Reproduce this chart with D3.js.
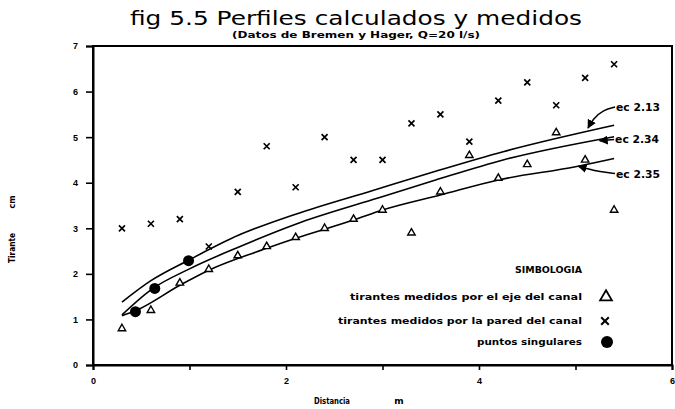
<!DOCTYPE html>
<html>
<head>
<meta charset="utf-8">
<script src="https://cdn.jsdelivr.net/npm/d3@7"></script>
<style>
  body { margin: 0; background: #fff; }
  svg { display: block; font-family: "DejaVu Sans", sans-serif; }
</style>
</head>
<body>
<div id="chart"></div>
<script>
// measured profiles (Distancia m, Tirante cm)
const ejeX = [0.3, 0.6, 0.9, 1.2, 1.5, 1.8, 2.1, 2.4, 2.7, 3.0, 3.3, 3.6, 3.9, 4.2, 4.5, 4.8, 5.1, 5.4]
const ejeY = [0.8, 1.2, 1.8, 2.1, 2.4, 2.6, 2.8, 3.0, 3.2, 3.4, 2.9, 3.8, 4.6, 4.1, 4.4, 5.1, 4.5, 3.4]
const paredX = [0.3, 0.6, 0.9, 1.2, 1.5, 1.8, 2.1, 2.4, 2.7, 3.0, 3.3, 3.6, 3.9, 4.2, 4.5, 4.8, 5.1, 5.4]
const paredY = [3.0, 3.1, 3.2, 2.6, 3.8, 4.8, 3.9, 5.0, 4.5, 4.5, 5.3, 5.5, 4.9, 5.8, 6.2, 5.7, 6.3, 6.6]
const singX = [0.44, 0.64, 0.99]
const singY = [1.17, 1.68, 2.29]

// computed profiles
const ec213X = [0.3, 0.6, 1.0, 1.5, 2.1, 2.9, 3.55, 4.25, 5.4]
const ec213Y = [1.38, 1.85, 2.31, 2.84, 3.31, 3.83, 4.25, 4.68, 5.26]
const ec234X = [0.3, 0.6, 1.0, 1.5, 2.1, 2.9, 3.55, 4.25, 5.4]
const ec234Y = [1.1, 1.65, 2.11, 2.58, 3.09, 3.63, 4.06, 4.5, 5.01]
const ec235X = [0.3, 0.45, 0.9, 1.2, 1.8, 2.1, 2.7, 3.0, 3.6, 4.2, 5.0, 5.4]
const ec235Y = [1.08, 1.2, 1.75, 2.08, 2.56, 2.78, 3.18, 3.4, 3.73, 4.06, 4.35, 4.53]

const xTicks = [0, 1, 2, 3, 4, 5, 6]
const xTickLabels = ["0", "", "2", "", "4", "", "6"]
const yTicks = [0, 1, 2, 3, 4, 5, 6, 7]

const legendLabels = ["tirantes medidos por el eje del canal", "tirantes medidos por la pared del canal", "puntos singulares"]

const annotLabels = ["ec 2.13", "ec 2.34", "ec 2.35"]
const annotArrows = [
    [[5.41, 5.66], [5.29, 5.6], [5.18, 5.4], [5.13, 5.2]],
    [[5.4, 4.95], [5.25, 4.92]],
    [[5.41, 4.2], [5.25, 4.24], [5.12, 4.31], [5.03, 4.36]]
]

const width = 675
const height = 409
const margin = { top: 46, bottom: 44, left: 93, right: 3 }

const svg = d3.select("#chart").append("svg")
    .attr("width", width)
    .attr("height", height)

svg.append("rect").attr("width", width).attr("height", height).attr("fill", "#fff")

let x = d3.scaleLinear().domain([0, 6]).range([margin.left, width - margin.right])
let y = d3.scaleLinear().domain([0, 7]).range([height - margin.bottom, margin.top])

svg.append("defs").append("marker")
    .attr("id", "arrow")
    .attr("viewBox", "0 0 10 10")
    .attr("refX", 9).attr("refY", 5)
    .attr("markerWidth", 6).attr("markerHeight", 6)
    .attr("orient", "auto")
    .append("path").attr("d", "M0,0 L10,5 L0,10 z").attr("fill", "#000")

// frame
svg.append("rect")
    .attr("x", x(0)).attr("y", y(7))
    .attr("width", x(6) - x(0)).attr("height", y(0) - y(7))
    .attr("fill", "none").attr("stroke", "#000").attr("stroke-width", 2)

// axes
let xAxis = d3.axisBottom(x).tickValues(xTicks).tickSize(5).tickPadding(8)
    .tickFormat((d, i) => xTickLabels[i])
let yAxis = d3.axisLeft(y).tickValues(yTicks).tickSize(7).tickPadding(8)
    .tickFormat(d3.format("d"))

let xAxisGroup = svg.append("g").attr("transform", `translate(0, ${y(0)})`).call(xAxis)
let yAxisGroup = svg.append("g").attr("transform", `translate(${x(0)}, 0)`).call(yAxis)
for (const g of [xAxisGroup, yAxisGroup]) {
    g.select(".domain").attr("stroke-width", 2)
    g.selectAll(".tick line").attr("stroke-width", 1.6)
    g.selectAll(".tick text").attr("font-size", 9).attr("font-weight", "bold").attr("fill", "#000")
}

// titles
svg.append("text").attr("x", 356).attr("y", 25).attr("text-anchor", "middle")
    .attr("font-size", 20).attr("textLength", 452).attr("lengthAdjust", "spacingAndGlyphs")
    .text("fig 5.5 Perfiles calculados y medidos")
svg.append("text").attr("x", 356).attr("y", 38).attr("text-anchor", "middle")
    .attr("font-size", 8).attr("font-weight", "bold").attr("textLength", 248).attr("lengthAdjust", "spacingAndGlyphs")
    .text("(Datos de Bremen y Hager, Q=20 l/s)")

svg.append("text").attr("x", 332).attr("y", 404).attr("text-anchor", "middle")
    .attr("font-size", 8).attr("font-weight", "bold").attr("textLength", 36).attr("lengthAdjust", "spacingAndGlyphs")
    .text("Distancia")
svg.append("text").attr("x", 399).attr("y", 404).attr("text-anchor", "middle")
    .attr("font-size", 9).attr("font-weight", "bold").text("m")

let yTitle = svg.append("g").attr("transform", "translate(15, 248) rotate(-90)")
yTitle.append("text").attr("x", 0).attr("y", 0).attr("text-anchor", "middle")
    .attr("font-size", 8).attr("font-weight", "bold").attr("textLength", 30).attr("lengthAdjust", "spacingAndGlyphs")
    .text("Tirante")
yTitle.append("text").attr("x", 46).attr("y", 0).attr("text-anchor", "middle")
    .attr("font-size", 8).attr("font-weight", "bold").text("cm")

// computed curves
let line = d3.line().x(d => x(d[0])).y(d => y(d[1])).curve(d3.curveMonotoneX)
const curves = [[ec213X, ec213Y], [ec234X, ec234Y], [ec235X, ec235Y]]
svg.append("g").selectAll("path").data(curves).enter().append("path")
    .attr("d", c => line(c[0].map((v, i) => [v, c[1][i]])))
    .attr("fill", "none").attr("stroke", "#000").attr("stroke-width", 1.6)

// markers
const tri = d3.symbol().type(d3.symbolTriangle).size(24)
const crossPath = s => `M${-s},${-s}L${s},${s}M${s},${-s}L${-s},${s}`

svg.append("g").selectAll("path").data(ejeX.map((v, i) => [v, ejeY[i]])).enter().append("path")
    .attr("transform", d => `translate(${x(d[0])},${y(d[1])})`)
    .attr("d", tri).attr("fill", "#fff").attr("stroke", "#000").attr("stroke-width", 1.4)

svg.append("g").selectAll("path").data(paredX.map((v, i) => [v, paredY[i]])).enter().append("path")
    .attr("transform", d => `translate(${x(d[0])},${y(d[1])})`)
    .attr("d", crossPath(3)).attr("stroke", "#000").attr("stroke-width", 1.7)

svg.append("g").selectAll("circle").data(singX.map((v, i) => [v, singY[i]])).enter().append("circle")
    .attr("cx", d => x(d[0])).attr("cy", d => y(d[1])).attr("r", 5.5).attr("fill", "#000")

// annotations
let arrowLine = d3.line().x(d => x(d[0])).y(d => y(d[1])).curve(d3.curveBasis)
annotArrows.forEach((a, i) => {
    svg.append("path").attr("d", arrowLine(a))
        .attr("fill", "none").attr("stroke", "#000").attr("stroke-width", 1.5)
        .attr("marker-end", "url(#arrow)")
    svg.append("text").attr("x", x(a[0][0]) + 1).attr("y", y(a[0][1]) + 4)
        .attr("font-size", 10).attr("font-weight", "bold").attr("textLength", 44).attr("lengthAdjust", "spacingAndGlyphs")
        .text(annotLabels[i])
})

// legend
const legendRight = 582
svg.append("text").attr("x", legendRight).attr("y", 273).attr("text-anchor", "end")
    .attr("font-size", 8).attr("font-weight", "bold").attr("textLength", 67).attr("lengthAdjust", "spacingAndGlyphs")
    .text("SIMBOLOGIA")
const legendY = [297, 321, 342]
const legendLen = [232, 244, 105]
legendLabels.forEach((t, i) => {
    svg.append("text").attr("x", legendRight).attr("y", legendY[i] + 3).attr("text-anchor", "end")
        .attr("font-size", 8).attr("font-weight", "bold").attr("textLength", legendLen[i]).attr("lengthAdjust", "spacingAndGlyphs")
        .text(t)
})
svg.append("path").attr("transform", `translate(606,${legendY[0]})`)
    .attr("d", d3.symbol().type(d3.symbolTriangle).size(60)).attr("fill", "#fff").attr("stroke", "#000").attr("stroke-width", 1.8)
svg.append("path").attr("transform", `translate(605,${legendY[1]})`)
    .attr("d", crossPath(3.8)).attr("stroke", "#000").attr("stroke-width", 2)
svg.append("circle").attr("cx", 607).attr("cy", legendY[2]).attr("r", 6).attr("fill", "#000")
</script>
</body>
</html>
